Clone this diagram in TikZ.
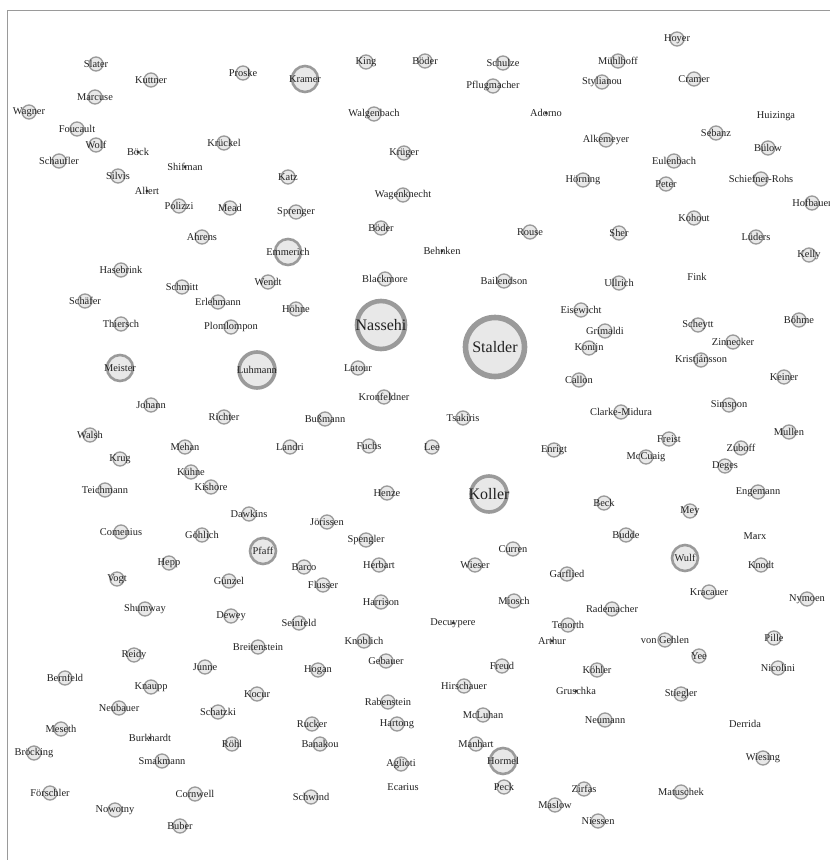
\documentclass[tikz,border=0pt]{standalone}
\usepackage{fontspec}
\setmainfont{Liberation Serif}
\definecolor{ringc}{HTML}{9A9A9A}
\definecolor{fillc}{HTML}{E8E8E8}
\definecolor{txtc}{HTML}{222222}
\definecolor{dotc}{HTML}{3A3A3A}
\tikzset{
  lbl/.style={text=txtc,font=\fontsize{10.4}{12}\selectfont,inner sep=0pt},
  biglbl/.style={text=txtc,font=\fontsize{16}{19}\selectfont,inner sep=0pt},
  sn/.style={circle,draw=ringc,fill=fillc,line width=1.3pt,inner sep=0pt,minimum size=14pt},
  mn/.style={circle,draw=ringc,fill=fillc,line width=2.6pt,inner sep=0pt,minimum size=26pt},
  ln/.style={circle,draw=ringc,fill=fillc,line width=3.6pt,inner sep=0pt,minimum size=36pt},
  xn/.style={circle,draw=ringc,fill=fillc,line width=4.6pt,inner sep=0pt,minimum size=48pt},
  xxn/.style={circle,draw=ringc,fill=fillc,line width=5.6pt,inner sep=0pt,minimum size=59pt},
  dn/.style={circle,fill=dotc,inner sep=0pt,minimum size=3.4pt},
  tn/.style={circle,fill=dotc!60,inner sep=0pt,minimum size=1.6pt},
  en/.style={inner sep=0pt,minimum size=0pt},
}
\newcommand{\pp}[5][lbl]{\node[#2,label={[#1]center:#5}] (#3) at (#4) {};}
\begin{document}
\begin{tikzpicture}[x=1pt,y=-1pt]
\useasboundingbox[fill=white] (0,0) rectangle (830,860);
\coordinate (fb) at (7,860);
\coordinate (fl) at (7,10);
\coordinate (fr) at (830,10);
\draw[ringc,line width=1pt] (fb) -- (fl) -- (fr);
\pp{sn}{slater}{96,64}{Slater}
\pp{sn}{kuttner}{151,80}{Kuttner}
\pp{sn}{proske}{243,73}{Proske}
\pp{sn}{marcuse}{95,97}{Marcuse}
\pp{sn}{wagner}{29,112}{Wagner}
\pp{sn}{foucault}{77,129}{Foucault}
\pp{sn}{wolf}{96,145}{Wolf}
\pp{dn}{boeck}{138,152}{Böck}
\pp{sn}{krueckel}{224,143}{Krückel}
\pp{sn}{schaufler}{59,161}{Schaufler}
\pp{dn}{shifman}{185,167}{Shifman}
\pp{sn}{silvis}{118,176}{Silvis}
\pp{dn}{allert}{147,191}{Allert}
\pp{sn}{polizzi}{179,206}{Polizzi}
\pp{sn}{mead}{230,208}{Mead}
\pp{sn}{king}{366,62}{King}
\pp{sn}{boederA}{425,61}{Böder}
\pp{sn}{schulze}{503,63}{Schulze}
\pp{mn}{kramer}{305,79}{Kramer}
\pp{sn}{pflugmacher}{493,86}{Pflugmacher}
\pp{sn}{walgenbach}{374,114}{Walgenbach}
\pp{dn}{adorno}{546,113}{Adorno}
\pp{sn}{krueger}{404,153}{Krüger}
\pp{sn}{katz}{288,177}{Katz}
\pp{sn}{wagenknecht}{403,195}{Wagenknecht}
\pp{sn}{sprenger}{296,212}{Sprenger}
\pp{sn}{hoyer}{677,39}{Hoyer}
\pp{sn}{muehlhoff}{618,61}{Mühlhoff}
\pp{sn}{stylianou}{602,82}{Stylianou}
\pp{sn}{cramer}{694,79}{Cramer}
\pp{en}{huizinga}{776,116}{Huizinga}
\pp{sn}{sebanz}{716,133}{Sebanz}
\pp{sn}{alkemeyer}{606,140}{Alkemeyer}
\pp{sn}{buelow}{768,148}{Bülow}
\pp{sn}{eulenbach}{674,161}{Eulenbach}
\pp{sn}{hoerning}{583,180}{Hörning}
\pp{sn}{peter}{666,184}{Peter}
\pp{sn}{schiefner}{761,179}{Schiefner-Rohs}
\pp{sn}{hofbauer}{812,203}{Hofbauer}
\pp{sn}{kohout}{694,218}{Kohout}
\pp{sn}{ahrens}{202,237}{Ahrens}
\pp{mn}{emmerich}{288,252}{Emmerich}
\pp{sn}{hasebrink}{121,270}{Hasebrink}
\pp{sn}{schmitt}{182,287}{Schmitt}
\pp{sn}{wendt}{268,282}{Wendt}
\pp{sn}{schaefer}{85,301}{Schäfer}
\pp{sn}{erlehmann}{218,302}{Erlehmann}
\pp{sn}{thiersch}{121,324}{Thiersch}
\pp{sn}{plomlompon}{231,327}{Plomlompon}
\pp{mn}{meister}{120,368}{Meister}
\pp{ln}{luhmann}{257,370}{Luhmann}
\pp{sn}{johann}{151,405}{Johann}
\pp{sn}{richter}{224,417}{Richter}
\pp{sn}{boederB}{381,228}{Böder}
\pp{sn}{rouse}{530,232}{Rouse}
\pp{dn}{behnken}{442,251}{Behnken}
\pp{sn}{hoehne}{296,309}{Höhne}
\pp{sn}{blackmore}{385,279}{Blackmore}
\pp{sn}{bailendson}{504,281}{Bailendson}
\pp[biglbl]{xn}{nassehi}{381,325}{Nassehi}
\pp[biglbl]{xxn}{stalder}{495,347}{Stalder}
\pp{sn}{latour}{358,368}{Latour}
\pp{sn}{kronfeldner}{384,397}{Kronfeldner}
\pp{sn}{bussmann}{325,419}{Bußmann}
\pp{sn}{tsakiris}{463,418}{Tsakiris}
\pp{sn}{sher}{619,233}{Sher}
\pp{sn}{lueders}{756,237}{Lüders}
\pp{sn}{kelly}{809,255}{Kelly}
\pp{en}{fink}{697,277}{Fink}
\pp{sn}{ullrich}{619,283}{Ullrich}
\pp{sn}{eisewicht}{581,310}{Eisewicht}
\pp{sn}{scheytt}{698,325}{Scheytt}
\pp{sn}{boehme}{799,320}{Böhme}
\pp{sn}{grimaldi}{605,331}{Grimaldi}
\pp{sn}{zinnecker}{733,342}{Zinnecker}
\pp{sn}{konijn}{589,348}{Konijn}
\pp{sn}{kristjansson}{701,360}{Kristjánsson}
\pp{sn}{keiner}{784,377}{Keiner}
\pp{sn}{callon}{579,380}{Callon}
\pp{sn}{simspon}{729,405}{Simspon}
\pp{sn}{clarke}{621,412}{Clarke-Midura}
\pp{sn}{mullen}{789,432}{Mullen}
\pp{sn}{walsh}{90,435}{Walsh}
\pp{sn}{mehan}{185,447}{Mehan}
\pp{sn}{landri}{290,447}{Landri}
\pp{sn}{krug}{120,459}{Krug}
\pp{sn}{kuehne}{191,472}{Kühne}
\pp{sn}{kishore}{211,487}{Kishore}
\pp{sn}{teichmann}{105,490}{Teichmann}
\pp{sn}{dawkins}{249,514}{Dawkins}
\pp{sn}{comenius}{121,532}{Comenius}
\pp{sn}{goehlich}{202,535}{Göhlich}
\pp{mn}{pfaff}{263,551}{Pfaff}
\pp{sn}{hepp}{169,563}{Hepp}
\pp{sn}{vogt}{117,579}{Vogt}
\pp{sn}{guenzel}{229,581}{Günzel}
\pp{sn}{shumway}{145,609}{Shumway}
\pp{sn}{dewey}{231,616}{Dewey}
\pp{sn}{breitenstein}{258,647}{Breitenstein}
\pp{sn}{reidy}{134,655}{Reidy}
\pp{sn}{fuchs}{369,446}{Fuchs}
\pp{sn}{lee}{432,447}{Lee}
\pp{sn}{enrigt}{554,450}{Enrigt}
\pp{sn}{henze}{387,493}{Henze}
\pp[biglbl]{ln}{koller}{489,494}{Koller}
\pp{sn}{joerissen}{327,522}{Jörissen}
\pp{sn}{spengler}{366,540}{Spengler}
\pp{sn}{curren}{513,549}{Curren}
\pp{sn}{barco}{304,567}{Barco}
\pp{sn}{herbart}{379,565}{Herbart}
\pp{sn}{wieser}{475,565}{Wieser}
\pp{sn}{flusser}{323,585}{Flusser}
\pp{sn}{harrison}{381,602}{Harrison}
\pp{sn}{miosch}{514,601}{Miosch}
\pp{sn}{seinfeld}{299,623}{Seinfeld}
\pp{dn}{decuypere}{453,623}{Decuypere}
\pp{sn}{knoblich}{364,641}{Knoblich}
\pp{sn}{gebauer}{386,661}{Gebauer}
\pp{sn}{freist}{669,439}{Freist}
\pp{sn}{zuboff}{741,448}{Zuboff}
\pp{sn}{mccuaig}{646,457}{McCuaig}
\pp{sn}{deges}{725,466}{Deges}
\pp{sn}{engemann}{758,492}{Engemann}
\pp{sn}{beck}{604,503}{Beck}
\pp{sn}{mey}{690,511}{Mey}
\pp{sn}{budde}{626,535}{Budde}
\pp{tn}{marx}{755,536}{Marx}
\pp{mn}{wulf}{685,558}{Wulf}
\pp{sn}{knodt}{761,565}{Knodt}
\pp{sn}{garflied}{567,574}{Garflied}
\pp{sn}{kracauer}{709,592}{Kracauer}
\pp{sn}{nymoen}{807,599}{Nymoen}
\pp{sn}{rademacher}{612,609}{Rademacher}
\pp{sn}{tenorth}{568,625}{Tenorth}
\pp{dn}{arthur}{552,641}{Arthur}
\pp{sn}{vongehlen}{665,640}{von Gehlen}
\pp{sn}{pille}{774,638}{Pille}
\pp{sn}{yee}{699,656}{Yee}
\pp{sn}{junne}{205,667}{Junne}
\pp{sn}{bernfeld}{65,678}{Bernfeld}
\pp{sn}{knaupp}{151,687}{Knaupp}
\pp{sn}{kocur}{257,694}{Kocur}
\pp{sn}{neubauer}{119,708}{Neubauer}
\pp{sn}{schatzki}{218,712}{Schatzki}
\pp{sn}{meseth}{61,729}{Meseth}
\pp{dn}{burkhardt}{150,738}{Burkhardt}
\pp{sn}{roehl}{232,744}{Röhl}
\pp{sn}{broecking}{34,753}{Bröcking}
\pp{sn}{smakmann}{162,761}{Smakmann}
\pp{sn}{foerschler}{50,793}{Förschler}
\pp{sn}{cornwell}{195,794}{Cornwell}
\pp{sn}{nowotny}{115,810}{Nowotny}
\pp{sn}{buber}{180,826}{Buber}
\pp{sn}{hogan}{318,670}{Hogan}
\pp{sn}{freud}{502,666}{Freud}
\pp{sn}{hirschauer}{464,686}{Hirschauer}
\pp{sn}{rabenstein}{388,702}{Rabenstein}
\pp{sn}{mcluhan}{483,715}{McLuhan}
\pp{sn}{rucker}{312,724}{Rucker}
\pp{sn}{hartong}{397,724}{Hartong}
\pp{sn}{banakou}{320,744}{Banakou}
\pp{sn}{manhart}{476,744}{Manhart}
\pp{mn}{hormel}{503,761}{Hormel}
\pp{sn}{aglioti}{401,764}{Aglioti}
\pp{tn}{ecarius}{403,787}{Ecarius}
\pp{sn}{peck}{504,787}{Peck}
\pp{sn}{schwind}{311,797}{Schwind}
\pp{sn}{maslow}{555,805}{Maslow}
\pp{sn}{koehler}{597,670}{Köhler}
\pp{sn}{nicolini}{778,668}{Nicolini}
\pp{dn}{gruschka}{576,691}{Gruschka}
\pp{sn}{stiegler}{681,694}{Stiegler}
\pp{sn}{neumann}{605,720}{Neumann}
\pp{en}{derrida}{745,724}{Derrida}
\pp{sn}{wiesing}{763,758}{Wiesing}
\pp{sn}{zirfas}{584,789}{Zirfas}
\pp{sn}{matuschek}{681,792}{Matuschek}
\pp{sn}{niessen}{598,821}{Niessen}
\end{tikzpicture}
\end{document}
